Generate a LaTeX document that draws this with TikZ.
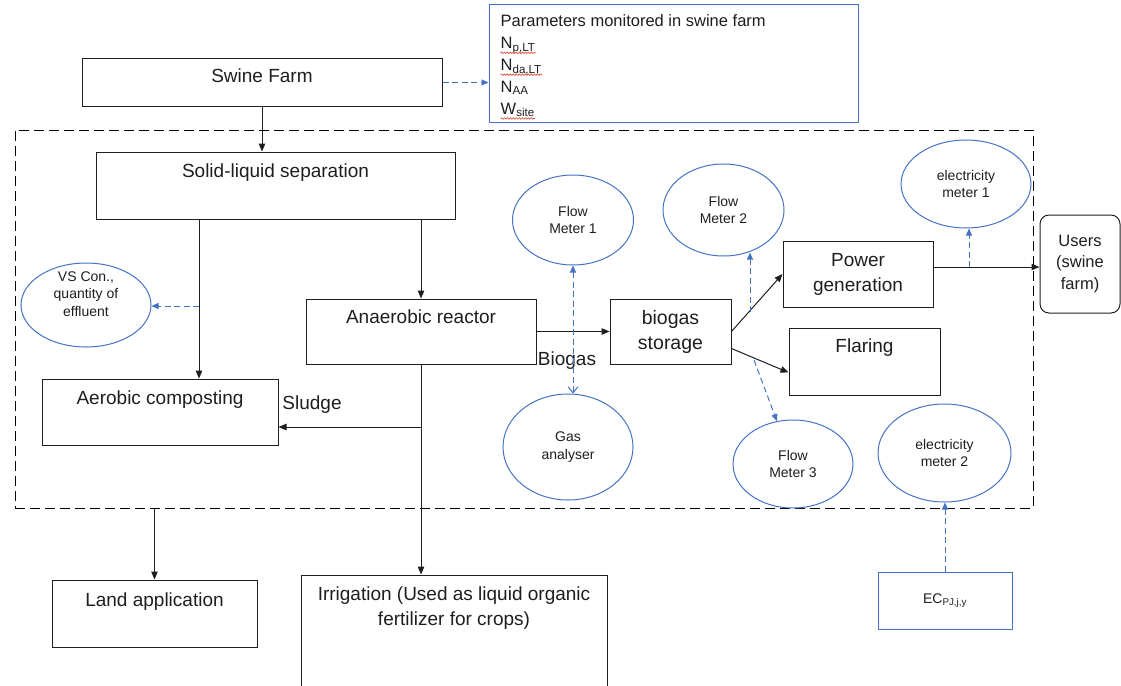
\documentclass[tikz,border=0pt]{standalone}
\usepackage{fontspec}
\setmainfont{Liberation Sans}
\usetikzlibrary{positioning,arrows.meta,calc,shapes.geometric,decorations.pathmorphing}
\definecolor{MeterBlue}{HTML}{4472C4}
\definecolor{InkGrey}{HTML}{1E1E1E}
\definecolor{SpellRed}{HTML}{E0402F}

\newcommand{\bigfont}{\fontsize{19}{25}\selectfont}
\newcommand{\smallfont}{\fontsize{14}{17.5}\selectfont}

\begin{document}
\begin{tikzpicture}[
    x=1pt, y=-1pt,
    procbox/.style={
      draw=InkGrey,
      line width=1pt,
      rectangle,
      inner sep=0pt,
      text=InkGrey,
      font=\bigfont,
      align=center
    },
    userbox/.style={
      procbox,
      rounded corners=9pt,
      font=\fontsize{16.5}{21.5}\selectfont
    },
    boxtext/.style={
      text=InkGrey,
      font=\bigfont,
      align=center,
      inner sep=0pt
    },
    meter/.style={
      ellipse,
      draw=MeterBlue,
      line width=1pt,
      inner sep=0pt,
      text=InkGrey,
      font=\smallfont,
      align=center
    },
    metertext/.style={
      text=InkGrey,
      font=\smallfont,
      align=center,
      inner sep=0pt
    },
    infobox/.style={
      draw=MeterBlue,
      line width=1pt,
      rectangle,
      inner sep=0pt,
      text=InkGrey,
      font=\smallfont
    },
    paramline/.style={
      text=InkGrey,
      font=\fontsize{16.5}{20}\selectfont,
      inner sep=0pt,
      text height=12pt,
      text depth=5pt
    },
    spell/.style={
      draw=SpellRed,
      line width=0.6pt,
      decorate,
      decoration={snake, segment length=3pt, amplitude=0.8pt}
    },
    boundary/.style={
      draw=black,
      line width=1pt,
      dash pattern=on 10pt off 5pt,
      rectangle,
      inner sep=0pt
    },
    flow/.style={
      draw=InkGrey,
      line width=1pt,
      -{Triangle[length=8pt,width=6.5pt]}
    },
    probe/.style={
      draw=MeterBlue,
      line width=1pt,
      dash pattern=on 6pt off 3.5pt,
      -{Triangle[length=7pt,width=6pt]}
    }
  ]

  \useasboundingbox (0,0) rectangle (1121,685);

  % system boundary
  \node[boundary, minimum width=1018pt, minimum height=378pt] (plant) at (524,319) {};

  % farm and monitored parameters
  \node[procbox, minimum width=360pt, minimum height=47pt] (farm) at (262,82.5) {};
  \node[boxtext, below=10pt of farm.north] (farmtxt) {Swine Farm};

  \node[infobox, minimum width=369pt, minimum height=117pt] (params) at (673.5,63.5) {};
  \node[paramline, below right=10pt and 12pt of params.north west] (ptitle) {Parameters monitored in swine farm};
  \node[paramline, below right=4.5pt and 0pt of ptitle.south west] (pnp) {N\textsubscript{p,LT}};
  \node[paramline, below right=4.5pt and 0pt of pnp.south west] (pnda) {N\textsubscript{da,LT}};
  \node[paramline, below right=4.5pt and 0pt of pnda.south west] (pnaa) {N\textsubscript{AA}};
  \node[paramline, below right=4.5pt and 0pt of pnaa.south west] (pwsite) {W\textsubscript{site}};

  \draw[spell] ([yshift=1pt]pnp.south west) -- ([yshift=1pt]pnp.south east);
  \draw[spell] ([yshift=1pt]pnda.south west) -- ([yshift=1pt]pnda.south east);
  \draw[spell] ([yshift=1pt]pwsite.south west) -- ([yshift=1pt]pwsite.south east);

  % treatment chain
  \node[procbox, minimum width=359pt, minimum height=67pt] (sep) at (275.5,185.5) {};
  \node[boxtext, below=12pt of sep.north] (septxt) {Solid-liquid separation};

  \node[procbox, minimum width=236pt, minimum height=66pt] (compost) at (160,412) {};
  \node[boxtext, below=12pt of compost.north] (composttxt) {Aerobic composting};

  \node[procbox, minimum width=230pt, minimum height=65pt] (reactor) at (421,331.5) {};
  \node[boxtext, below=11pt of reactor.north] (reactortxt) {Anaerobic reactor};

  \node[procbox, minimum width=121pt, minimum height=65pt, font=\fontsize{19.5}{25}\selectfont] (storage) at (670.5,331.5) {biogas\\storage};
  \node[procbox, minimum width=150pt, minimum height=66pt] (power) at (858,274) {Power\\generation};
  \node[procbox, minimum width=151pt, minimum height=67pt] (flare) at (864.5,361.5) {};
  \node[boxtext, below=11pt of flare.north] (flaretxt) {Flaring};

  \node[userbox, minimum width=80pt, minimum height=98pt] (users) at (1080,264) {Users\\(swine\\farm)};

  % outlets
  \node[procbox, minimum width=205pt, minimum height=67pt] (land) at (154.5,613.5) {};
  \node[boxtext, below=13pt of land.north] (landtxt) {Land application};

  \node[procbox, minimum width=306pt, minimum height=113pt] (irrig) at (454,631.5) {};
  \node[boxtext, below=12pt of irrig.north] (irrigtxt) {Irrigation (Used as liquid organic\\fertilizer for crops)};

  % meters
  \node[meter, minimum width=130pt, minimum height=84pt] (vs) at (86,305) {};
  \node[metertext] (vstxt) at ([yshift=11pt]vs.center) {VS Con.,\\quantity of\\effluent};
  \node[meter, minimum width=121pt, minimum height=90pt] (fm1) at (573,220) {Flow\\Meter 1};
  \node[meter, minimum width=130pt, minimum height=106pt] (gas) at (568,447) {Gas\\analyser};
  \node[meter, minimum width=121pt, minimum height=92pt] (fm2) at (723.5,210) {Flow\\Meter 2};
  \node[meter, minimum width=120pt, minimum height=88pt] (fm3) at (793,464) {Flow\\Meter 3};
  \node[meter, minimum width=130pt, minimum height=88pt] (em1) at (966,184) {electricity\\meter 1};
  \node[meter, minimum width=133pt, minimum height=98pt] (em2) at (944.5,453) {electricity\\meter 2};

  \node[infobox, minimum width=134pt, minimum height=57pt] (ec) at (945,600.5) {EC\textsubscript{PJ,j,y}};

  % stream labels
  \node[boxtext, anchor=north] (sludgetxt) at (312,396) {Sludge};
  \node[boxtext, anchor=north] (biogastxt) at (567,352) {Biogas};

  % tap points
  \coordinate (vstap) at (199,306);
  \coordinate (sludge) at (421,427);
  \coordinate (fm2tap) at (750,312);
  \coordinate (fm3tap) at (754,360);
  \coordinate (em1tap) at (969,267);

  % material flows
  \draw[flow] (farm.south) -- (farm.south |- sep.north);
  \draw[flow] (sep.south -| vstap) -- (compost.north -| vstap);
  \draw[flow] (sep.south -| reactor.north) -- (reactor.north);
  \draw[flow] (reactor.south) -- (reactor.south |- irrig.north);
  \draw[flow] (sludge) -- (sludge -| compost.east);
  \draw[flow] (plant.south -| land.north) -- (land.north);
  \draw[flow] (reactor) -- (storage);
  \draw[flow] (storage.east) -- (power.west);
  \draw[flow] ($(storage.east)+(0,17)$) -- ($(flare.west)+(0,11)$);
  \draw[flow] (power.east |- em1tap) -- (users.west |- em1tap);

  % monitoring
  \draw[probe] (farm.east) -- (farm.east -| params.west);
  \draw[probe] (vstap) -- (vstap -| vs.east);
  \draw[probe, {Straight Barb[length=6pt,width=10pt]}-{Triangle[length=7pt,width=6pt]}] (fm1.south |- gas.north) -- (fm1.south);
  \draw[probe] (fm2tap) -- (fm2tap |- fm2.-60);
  \draw[probe] (fm3tap) -- (fm3);
  \draw[probe] (em1tap) -- (em1tap |- em1.south);
  \draw[probe] (ec.north) -- (ec.north |- em2.south);

\end{tikzpicture}
\end{document}
